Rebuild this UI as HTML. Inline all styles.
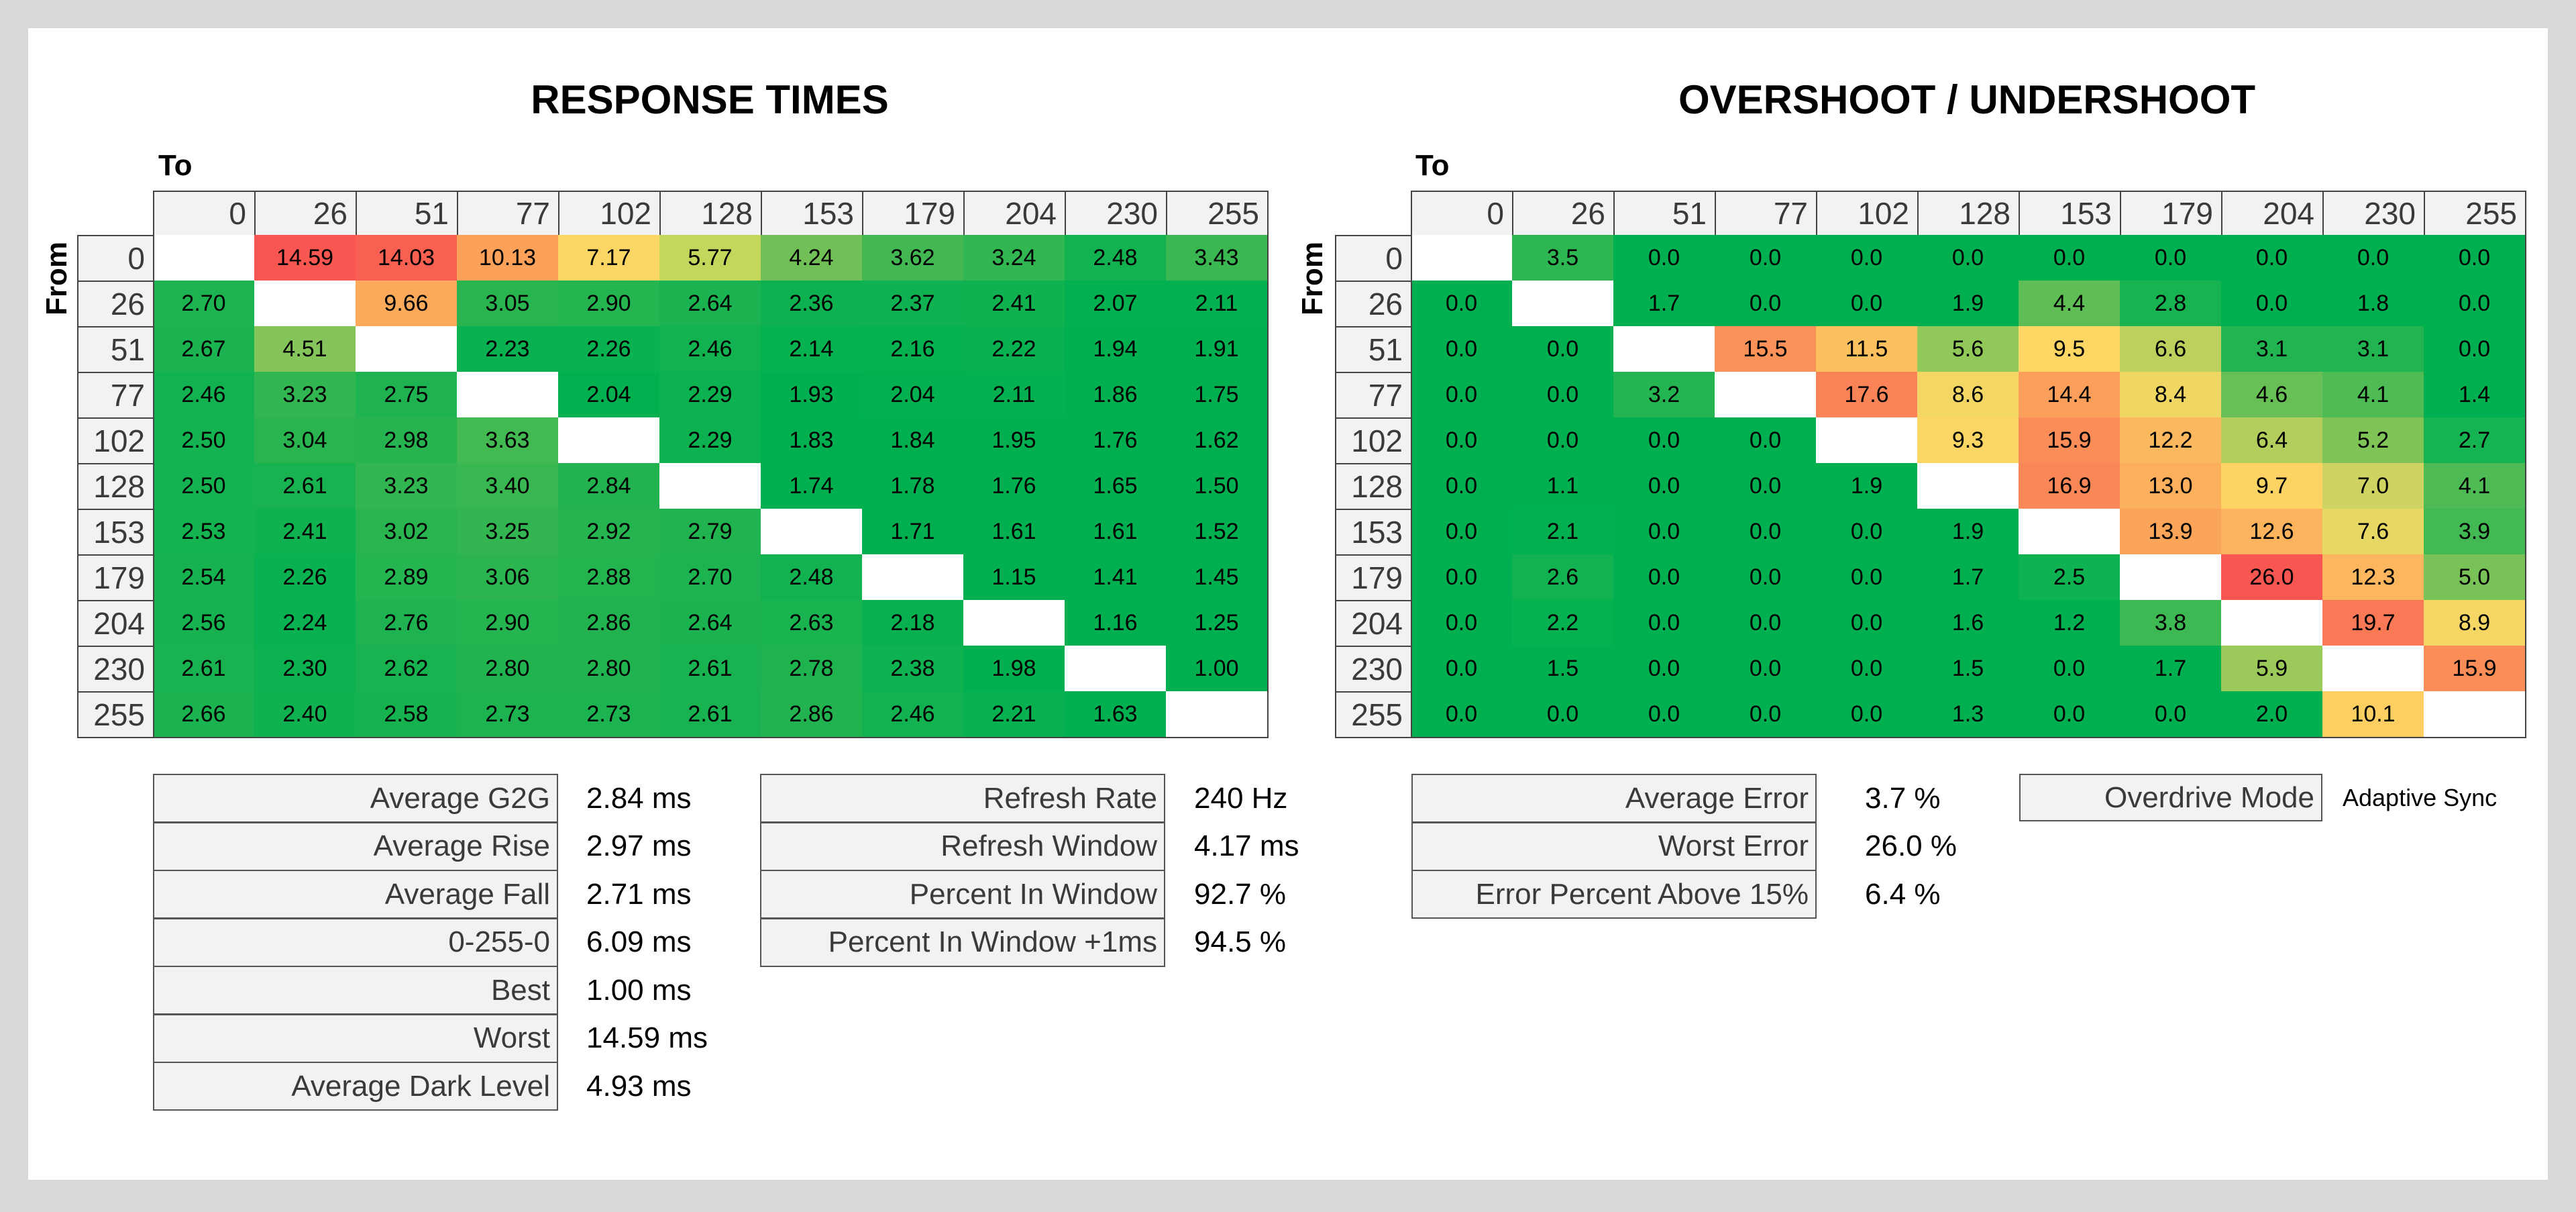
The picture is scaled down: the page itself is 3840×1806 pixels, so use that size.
<!DOCTYPE html>
<html><head><meta charset="utf-8">
<style>
html,body{margin:0;padding:0}
body{width:3840px;height:1806px;background:#d9d9d9;position:relative;overflow:hidden;font-family:"Liberation Sans",sans-serif}
#panel{position:absolute;left:42px;top:42px;width:3756px;height:1716px;background:#fff}
.abs{position:absolute;box-sizing:border-box}
.title{font-weight:bold;font-size:60px;color:#000;text-align:center;width:1400px}
.hdr{background:#f2f2f2;border:2px solid #444;color:#3a3a3a;font-size:46px;text-align:right;padding-right:12px;display:flex;align-items:center;justify-content:flex-end}
.cell{font-size:34px;color:#000;display:flex;align-items:center;justify-content:center}
.lab{background:#f2f2f2;border:2px solid #555;color:#3a3a3a;font-size:44px;display:flex;align-items:center;justify-content:flex-end;padding-right:10px}
.val{font-size:44px;color:#000;display:flex;align-items:center}
</style></head><body>
<div id="panel"></div>
<div class="abs title" style="left:358px;top:114px">RESPONSE TIMES</div>
<div class="abs title" style="left:2232px;top:114px">OVERSHOOT / UNDERSHOOT</div>
<div class="abs" style="left:236px;top:222px;font-size:44px;font-weight:bold">To</div>
<div class="abs" style="left:2110px;top:222px;font-size:44px;font-weight:bold">To</div>
<div class="abs" style="left:30px;top:390px;font-size:44px;font-weight:bold;transform:rotate(-90deg);transform-origin:center;width:110px;text-align:center">From</div>
<div class="abs" style="left:1902px;top:390px;font-size:44px;font-weight:bold;transform:rotate(-90deg);transform-origin:center;width:110px;text-align:center">From</div>
<div id="root"></div>
<script>
const levels=["0","26","51","77","102","128","153","179","204","230","255"];
const responseRows=[
[null,14.59,14.03,10.13,7.17,5.77,4.24,3.62,3.24,2.48,3.43],
[2.70,null,9.66,3.05,2.90,2.64,2.36,2.37,2.41,2.07,2.11],
[2.67,4.51,null,2.23,2.26,2.46,2.14,2.16,2.22,1.94,1.91],
[2.46,3.23,2.75,null,2.04,2.29,1.93,2.04,2.11,1.86,1.75],
[2.50,3.04,2.98,3.63,null,2.29,1.83,1.84,1.95,1.76,1.62],
[2.50,2.61,3.23,3.40,2.84,null,1.74,1.78,1.76,1.65,1.50],
[2.53,2.41,3.02,3.25,2.92,2.79,null,1.71,1.61,1.61,1.52],
[2.54,2.26,2.89,3.06,2.88,2.70,2.48,null,1.15,1.41,1.45],
[2.56,2.24,2.76,2.90,2.86,2.64,2.63,2.18,null,1.16,1.25],
[2.61,2.30,2.62,2.80,2.80,2.61,2.78,2.38,1.98,null,1.00],
[2.66,2.40,2.58,2.73,2.73,2.61,2.86,2.46,2.21,1.63,null]];
const overshootRows=[
[null,3.5,0,0,0,0,0,0,0,0,0],
[0,null,1.7,0,0,1.9,4.4,2.8,0,1.8,0],
[0,0,null,15.5,11.5,5.6,9.5,6.6,3.1,3.1,0],
[0,0,3.2,null,17.6,8.6,14.4,8.4,4.6,4.1,1.4],
[0,0,0,0,null,9.3,15.9,12.2,6.4,5.2,2.7],
[0,1.1,0,0,1.9,null,16.9,13.0,9.7,7.0,4.1],
[0,2.1,0,0,0,1.9,null,13.9,12.6,7.6,3.9],
[0,2.6,0,0,0,1.7,2.5,null,26.0,12.3,5.0],
[0,2.2,0,0,0,1.6,1.2,3.8,null,19.7,8.9],
[0,1.5,0,0,0,1.5,0,1.7,5.9,null,15.9],
[0,0,0,0,0,1.3,0,0,2.0,10.1,null]];
const rtLabels=["Average G2G","Average Rise","Average Fall","0-255-0","Best","Worst","Average Dark Level"];
const rtValues=["2.84 ms","2.97 ms","2.71 ms","6.09 ms","1.00 ms","14.59 ms","4.93 ms"];
const rrLabels=["Refresh Rate","Refresh Window","Percent In Window","Percent In Window +1ms"];
const rrValues=["240 Hz","4.17 ms","92.7 %","94.5 %"];
const osLabels=["Average Error","Worst Error","Error Percent Above 15%"];
const osValues=["3.7 %","26.0 %","6.4 %"];

const rtStops=[[0,[0,173,80]],[2.0,[0,176,80]],[3.0,[40,180,80]],[3.7,[70,185,82]],[4.5,[132,196,90]],[5.8,[197,214,92]],[7.2,[253,214,100]],[10,[252,163,90]],[14.6,[248,86,80]]];
const osStops=[[0,[0,176,80]],[2.0,[0,176,80]],[3.5,[45,182,82]],[4.5,[100,190,85]],[6,[160,203,90]],[7.5,[230,215,100]],[9.5,[253,214,100]],[13,[252,175,92]],[16,[250,140,88]],[26,[248,86,80]]];
function colorFor(v,stops){
  if(v<=stops[0][0])return 'rgb('+stops[0][1].join(',')+')';
  for(let i=1;i<stops.length;i++){if(v<=stops[i][0]){const a=stops[i-1],b=stops[i];const t=(v-a[0])/(b[0]-a[0]);return 'rgb('+a[1].map((c,k)=>Math.round(c+(b[1][k]-c)*t)).join(',')+')';}}
  return 'rgb('+stops[stops.length-1][1].join(',')+')';
}
const root=document.getElementById('root');
function mk(cls,x,y,w,h,txt){const d=document.createElement('div');d.className='abs '+cls;d.style.left=x+'px';d.style.top=y+'px';d.style.width=w+'px';d.style.height=h+'px';if(txt!==undefined)d.textContent=txt;root.appendChild(d);return d;}
const TOP=284,HH=66,RH=68,CW=151,RW=113;
function matrix(prefix,x0,rows,stops,dec){
  const cx=x0+RW;
  for(let j=0;j<levels.length;j++){
    const h=mk('hdr',cx+j*CW,TOP,CW+2,HH+2,levels[j]);
    
    
  }
  for(let i=0;i<levels.length;i++){
    const y=TOP+HH+i*RH;
    const h=mk('hdr',x0,y,RW+2,RH+2,levels[i]);
    
    
    for(let j=0;j<levels.length;j++){
      const v=rows[i][j];
      const c=mk('cell',cx+j*CW,y,CW,RH,v===null?'':v.toFixed(dec));
      c.style.background=v===null?'#fff':colorFor(v,stops);
      
      
    }
  }
  const b=mk('',cx,TOP,11*CW+2,HH+11*RH+2);b.style.border='2px solid #444';b.style.pointerEvents='none';
  
  
}
matrix('response',115,responseRows,rtStops,2);
matrix('overshoot',1990,overshootRows,osStops,1);
function stats(prefix,x,w,vx,labels,values){
  for(let i=0;i<labels.length;i++){
    const y=1153+i*71.5;
    const l=mk('lab',x,y,w,73,labels[i]);
    
    
    const v=mk('val',vx,y,400,73,values[i]);
    
    
  }
}
stats('response-stats',228,604,874,rtLabels,rtValues);
stats('refresh-stats',1133,604,1780,rrLabels,rrValues);
stats('overshoot-stats',2104,604,2780,osLabels,osValues);
const od=mk('lab',3010,1153,452,71,'Overdrive Mode');


const odv=mk('val',3492,1153,320,71,'Adaptive Sync');
odv.style.fontSize='36px';


</script>
</body></html>
